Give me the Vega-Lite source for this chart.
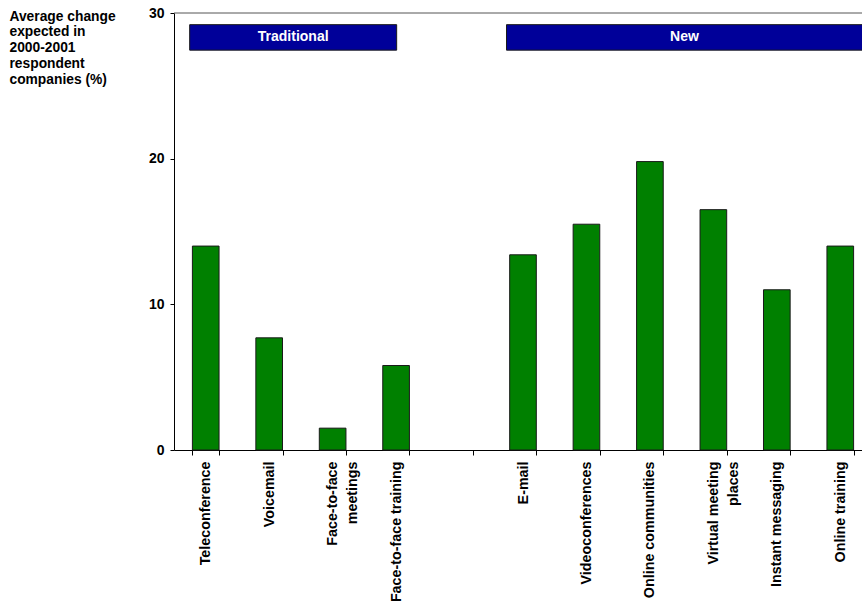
{
  "$schema": "https://vega.github.io/schema/vega-lite/v6.json",
  "width": 688,
  "height": 437,
  "autosize": {"type": "none"},
  "padding": {"left": 174, "top": 13, "right": 0, "bottom": 154},
  "background": "white",
  "config": {
    "font": "Liberation Sans",
    "view": {"stroke": null},
    "axis": {
      "domainColor": "#000000",
      "tickColor": "#000000",
      "labelColor": "#000000",
      "titleColor": "#000000",
      "labelFont": "Liberation Sans",
      "titleFont": "Liberation Sans",
      "labelFontWeight": "bold",
      "titleFontWeight": "bold",
      "grid": false
    }
  },
  "layer": [
    {
      "data": {
        "values": [
          {"channel": "Teleconference", "change": 14.0},
          {"channel": "Voicemail", "change": 7.7},
          {"channel": "Face-to-face meetings", "change": 1.5},
          {"channel": "Face-to-face training", "change": 5.8},
          {"channel": "E-mail", "change": 13.4},
          {"channel": "Videoconferences", "change": 15.5},
          {"channel": "Online communities", "change": 19.8},
          {"channel": "Virtual meeting places", "change": 16.5},
          {"channel": "Instant messaging", "change": 11.0},
          {"channel": "Online training", "change": 14.0}
        ]
      },
      "mark": {"type": "bar", "fill": "#008000", "stroke": "#1a1a1a", "strokeWidth": 1},
      "encoding": {
        "x": {
          "field": "channel",
          "type": "nominal",
          "sort": null,
          "scale": {
            "domain": ["Teleconference", "Voicemail", "Face-to-face meetings", "Face-to-face training", " ", "E-mail", "Videoconferences", "Online communities", "Virtual meeting places", "Instant messaging", "Online training"],
            "range": [0, 698],
            "paddingInner": 0.58,
            "paddingOuter": 0.29
          },
          "axis": {
            "title": null,
            "labelAngle": -90,
            "labelFontSize": 14.3,
            "labelLineHeight": 20,
            "labelPadding": 6,
            "tickSize": 5,
            "tickBand": "extent",
            "labelExpr": "datum.value == 'Face-to-face meetings' ? ['Face-to-face', 'meetings'] : datum.value == 'Virtual meeting places' ? ['Virtual meeting', 'places'] : datum.label"
          }
        },
        "y": {
          "field": "change",
          "type": "quantitative",
          "scale": {"domain": [0, 30], "nice": false},
          "axis": {
            "values": [0, 10, 20, 30],
            "labelFontSize": 14,
            "labelPadding": 6,
            "tickSize": 4,
            "title": ["Average change", "expected in", "2000-2001", "respondent", "companies (%)"],
            "titleAngle": 0,
            "titleAlign": "left",
            "titleBaseline": "top",
            "titleX": -165,
            "titleY": -4,
            "titleFontSize": 13.8,
            "titleLineHeight": 15.8
          }
        }
      }
    },
    {
      "data": {"values": [{}]},
      "mark": {"type": "rule", "stroke": "#555555", "strokeWidth": 1},
      "encoding": {"y": {"datum": 30}}
    },
    {
      "data": {"values": [{}]},
      "mark": {"type": "rect", "fill": "#000099", "stroke": "#1a1a1a", "strokeWidth": 1},
      "encoding": {
        "x": {"datum": 0.247, "type": "quantitative", "scale": {"domain": [0, 11], "range": [0, 698]}, "axis": null},
        "x2": {"datum": 3.509},
        "y": {"datum": 27.45},
        "y2": {"datum": 29.2}
      }
    },
    {
      "data": {"values": [{}]},
      "mark": {"type": "text", "color": "white", "fontWeight": "bold", "fontSize": 14, "align": "center", "baseline": "middle"},
      "encoding": {
        "x": {"datum": 1.878, "type": "quantitative", "scale": {"domain": [0, 11], "range": [0, 698]}, "axis": null},
        "y": {"datum": 28.33},
        "text": {"value": "Traditional"}
      }
    },
    {
      "data": {"values": [{}]},
      "mark": {"type": "rect", "fill": "#000099", "stroke": "#1a1a1a", "strokeWidth": 1},
      "encoding": {
        "x": {"datum": 5.24, "type": "quantitative", "scale": {"domain": [0, 11], "range": [0, 698]}, "axis": null},
        "x2": {"datum": 10.85},
        "y": {"datum": 27.45},
        "y2": {"datum": 29.2}
      }
    },
    {
      "data": {"values": [{}]},
      "mark": {"type": "text", "color": "white", "fontWeight": "bold", "fontSize": 14, "align": "center", "baseline": "middle"},
      "encoding": {
        "x": {"datum": 8.045, "type": "quantitative", "scale": {"domain": [0, 11], "range": [0, 698]}, "axis": null},
        "y": {"datum": 28.33},
        "text": {"value": "New"}
      }
    }
  ],
  "resolve": {"scale": {"x": "independent"}}
}
